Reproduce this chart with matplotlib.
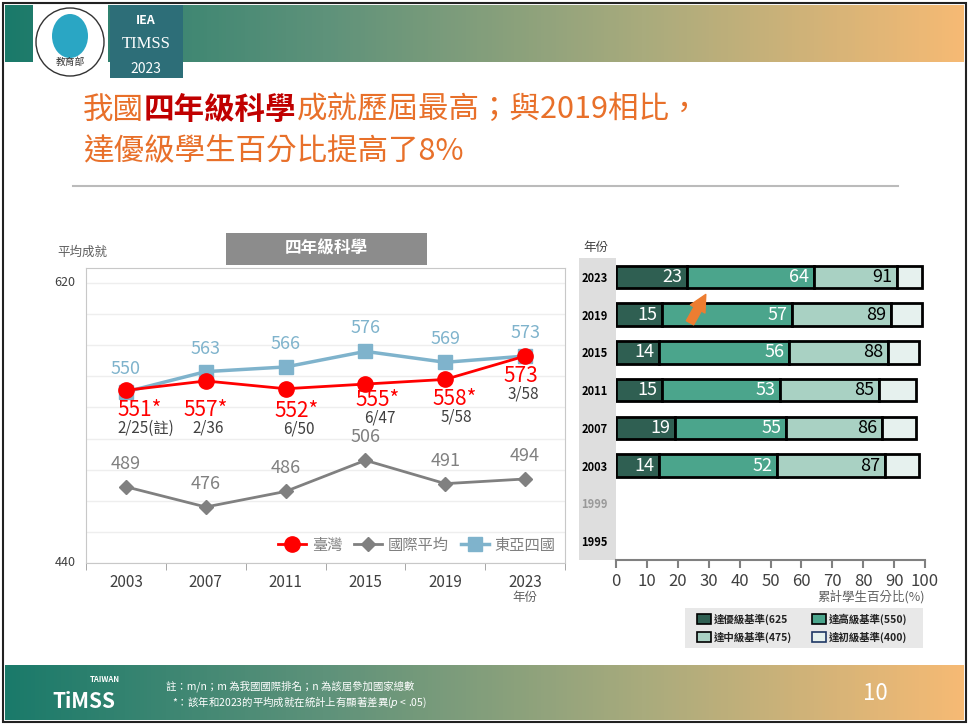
import numpy as np
import matplotlib.pyplot as plt
from matplotlib.patches import Rectangle, FancyArrowPatch, Ellipse
from matplotlib.colors import LinearSegmentedColormap

plt.rcParams['font.family'] = ['Noto Sans CJK TC', 'DejaVu Sans']

# data: line chart
years = ['2003', '2007', '2011', '2015', '2019', '2023']
taiwan = [551, 557, 552, 555, 558, 573]
intl_avg = [489, 476, 486, 506, 491, 494]
east_asia = [550, 563, 566, 576, 569, 573]
taiwan_labels = ['551*', '557*', '552*', '555*', '558*', '573']
rank_labels = ['2/25', '2/36', '6/50', '6/47', '5/58', '3/58']

# data: benchmark bars (cumulative %)
bar_years = ['2023', '2019', '2015', '2011', '2007', '2003', '1999', '1995']
advanced = [23, 15, 14, 15, 19, 14, None, None]
high = [64, 57, 56, 53, 55, 52, None, None]
intermediate = [91, 89, 88, 85, 86, 87, None, None]
low = [99, 99, 98, 97, 97, 98, None, None]
bench_names = ['達優級基準(625', '達高級基準(550)', '達中級基準(475)', '達初級基準(400)']
bench_colors = ['#2f5f52', '#4ba58c', '#a9d1c3', '#e6f1ee']

W, H = 969, 727
fig = plt.figure(figsize=(W / 100, H / 100), dpi=100)

def fx(px):
    return px / W

def fy(py):
    return 1 - py / H

# header / footer gradient bands
grad = np.linspace(0, 1, 256)[None, :]
cmap = LinearSegmentedColormap.from_list('band', ['#1a7a6a', '#5e927a', '#a9ab7d', '#f6ba74'])
for top, bot in [(5, 62), (665, 720)]:
    bax = fig.add_axes([fx(5), fy(bot), fx(W - 10), (bot - top) / H])
    bax.imshow(grad, aspect='auto', cmap=cmap)
    bax.axis('off')

# slide frame
fig.add_artist(Rectangle((fx(3), fy(722)), fx(W - 6), (722 - 3) / H, transform=fig.transFigure,
                         fill=False, ec='#222222', lw=1.5))

# logos
fig.add_artist(Rectangle((fx(33), fy(78)), fx(75), 73 / H, transform=fig.transFigure,
                         fc='white', ec='none'))
fig.add_artist(Ellipse((fx(70), fy(42)), fx(68), 68 / H, transform=fig.transFigure,
                       fc='white', ec='#333333', lw=1))
fig.add_artist(Ellipse((fx(70), fy(36)), fx(36), 44 / H, transform=fig.transFigure,
                       fc='#2aa6c4', ec='none'))
fig.text(fx(70), fy(62), '教育部', ha='center', va='center', fontsize=7, color='#333333')
fig.add_artist(Rectangle((fx(110), fy(78)), fx(73), 73 / H, transform=fig.transFigure,
                         fc='#2d6e78', ec='none'))
fig.text(fx(146), fy(20), 'IEA', ha='center', va='center', fontsize=9, color='white', weight='bold')
fig.text(fx(146), fy(44), 'TIMSS', ha='center', va='center', fontsize=12, color='white',
         family='Liberation Serif')
fig.text(fx(146), fy(69), '2023', ha='center', va='center', fontsize=10, color='white')

# title with mixed colours
orange, dred = '#e8702a', '#c00000'
fig.canvas.draw()
renderer = fig.canvas.get_renderer()

def colored_line(parts, x0, y0):
    x = x0
    for s, c, w in parts:
        t = fig.text(fx(x), fy(y0), s, color=c, fontsize=22, weight=w, va='center')
        bb = t.get_window_extent(renderer)
        x += bb.width

colored_line([('我國', orange, 'medium'), ('四年級科學', dred, 'bold'),
              ('成就歷屆最高；與2019相比，', orange, 'medium')], 83, 110)
colored_line([('達優級學生百分比提高了8%', orange, 'medium')], 83, 152)
fig.add_artist(plt.Line2D([fx(73), fx(898)], [fy(186), fy(186)], transform=fig.transFigure,
                          color='#bbbbbb', lw=1.5))

# ---------- line chart ----------
ax = fig.add_axes([fx(86), fy(563), fx(565 - 86), (563 - 268) / H])
x = np.arange(len(years))
ax.set_xlim(-0.5, 5.5)
ax.set_ylim(440, 629.6)
ax.set_yticks(np.arange(440, 630, 20))
ax.yaxis.grid(True, color='#eeeeee', lw=1)
ax.tick_params(axis='y', length=0, labelleft=False)
ax.set_xticks(x)
ax.set_xticklabels(years, fontsize=11, color='#404040')
ax.set_xticks(np.arange(-0.5, 6, 1), minor=True)
ax.tick_params(axis='x', which='major', length=0, pad=8)
ax.tick_params(axis='x', which='minor', length=5, color='#999999')
for s in ax.spines.values():
    s.set_color('#c8c8c8')
ax.set_axisbelow(True)

ea_c, int_c, tw_c = '#7fb3cc', '#808080', '#ff0000'
ax.plot(x, east_asia, color=ea_c, marker='s', ms=10, lw=2.5, label='東亞四國', zorder=3)
ax.plot(x, intl_avg, color=int_c, marker='D', ms=7, lw=2, label='國際平均', zorder=3)
ax.plot(x, taiwan, color=tw_c, marker='o', ms=11, lw=2, label='臺灣', zorder=4)

for i in range(len(years)):
    ax.annotate(str(east_asia[i]), (x[i], east_asia[i]), xytext=(0, 23), textcoords='offset pixels',
                ha='center', va='center', fontsize=13, color=ea_c)
    ax.annotate(str(intl_avg[i]), (x[i], intl_avg[i]), xytext=(0, 23), textcoords='offset pixels',
                ha='center', va='center', fontsize=13, color=int_c)

tw_off = [(14, -20), (0, -29), (11, -22), (12, -16), (9, -20), (-4, -20)]
for i in range(len(years)):
    dx, dy = tw_off[i]
    ax.annotate(taiwan_labels[i], (x[i], taiwan[i]), xytext=(dx, dy), textcoords='offset pixels',
                ha='center', va='center', fontsize=15, color=tw_c)
    rl = rank_labels[i] + ('(註)' if i == 0 else '')
    ax.annotate(rl, (x[i], taiwan[i]), xytext=(dx + (6 if i == 0 else 2), dy - 18),
                textcoords='offset pixels', ha='center', va='center', fontsize=11, color='#404040')

h, l = ax.get_legend_handles_labels()
ax.legend(h[::-1], l[::-1], loc='lower right', ncol=3, frameon=False, fontsize=11,
          handlelength=1.8, columnspacing=0.8, handletextpad=0.4, borderaxespad=0.2,
          labelcolor='#808080')

fig.text(fx(65), fy(283), '620', ha='center', va='center', fontsize=9, color='#404040')
fig.text(fx(65), fy(563), '440', ha='center', va='center', fontsize=9, color='#404040')
fig.text(fx(57), fy(252), '平均成就', ha='left', va='center', fontsize=9, color='#606060')
fig.text(fx(525), fy(598), '年份', ha='center', va='center', fontsize=9, color='#606060')
fig.add_artist(Rectangle((fx(226), fy(265)), fx(201), 32 / H, transform=fig.transFigure,
                         fc='#8c8c8c', ec='none'))
fig.text(fx(326), fy(249), '四年級科學', ha='center', va='center', fontsize=12, color='white',
         weight='bold')

# ---------- benchmark bars ----------
fig.add_artist(Rectangle((fx(579), fy(560)), fx(37), (560 - 258) / H, transform=fig.transFigure,
                         fc='#dedede', ec='none', zorder=-1))
bx = fig.add_axes([fx(616), fy(560), fx(925 - 616), (560 - 258) / H])
bx.patch.set_alpha(0)
ypos = np.arange(len(bar_years))[::-1]
bx.set_xlim(0, 100)
bx.set_ylim(-0.5, 7.5)
levels = [advanced, high, intermediate, low]
for yi, yr in zip(ypos, range(len(bar_years))):
    if advanced[yr] is None:
        continue
    left = 0
    for k, lev in enumerate(levels):
        val = lev[yr]
        bx.barh(yi, val - left, left=left, height=0.6, color=bench_colors[k], ec='black',
                lw=2, zorder=3)
        if k < 3:
            bx.text(val - 1.5, yi, str(val), ha='right', va='center', fontsize=13,
                    color='white' if k < 2 else 'black', zorder=6)
        left = val
bx.set_yticks(ypos)
bx.set_yticklabels(bar_years, fontsize=8, weight='bold')
for lab, yr in zip(bx.get_yticklabels(), bar_years):
    if yr == '1999':
        lab.set_color('#999999')
bx.tick_params(axis='y', length=0, pad=6)
bx.set_xticks(np.arange(0, 101, 10))
bx.tick_params(axis='x', labelsize=12, labelcolor='#404040', color='#808080', length=6, width=1.5)
for s in ['top', 'right', 'left']:
    bx.spines[s].set_visible(False)
bx.spines['bottom'].set_color('#808080')
bx.spines['bottom'].set_linewidth(1.5)
bx.add_patch(FancyArrowPatch((23.5, 5.72), (29.5, 6.6),
                             arrowstyle='simple,head_width=8,head_length=8,tail_width=4',
                             color='#ed7d31', zorder=7, mutation_scale=1.5))
fig.text(fx(596), fy(248), '年份', ha='center', va='center', fontsize=9, color='#404040')
fig.text(fx(925), fy(597), '累計學生百分比(%)', ha='right', va='center', fontsize=9, color='#606060')

# benchmark legend
fig.add_artist(Rectangle((fx(685), fy(648)), fx(238), 40 / H, transform=fig.transFigure,
                         fc='#e8e8e8', ec='none'))
leg_pos = [(697, 619), (812, 619), (697, 637), (812, 637)]
for k, (px, py) in enumerate(leg_pos):
    fig.add_artist(Rectangle((fx(px), fy(py + 5)), fx(14), 10 / H, transform=fig.transFigure,
                             fc=bench_colors[k], ec='#1f3864' if k == 3 else 'black', lw=1.2))
    fig.text(fx(px + 17), fy(py), bench_names[k], ha='left', va='center', fontsize=7.5,
             weight='bold', color='#222222')

# footer
fig.text(fx(52), fy(701), 'TiMSS', ha='left', va='center', fontsize=15, color='white', weight='bold')
fig.text(fx(90), fy(680), 'TAIWAN', ha='left', va='center', fontsize=5.5, color='white', weight='bold')
fig.text(fx(166), fy(686), '註：m/n；m 為我國國際排名；n 為該屆參加國家總數', ha='left', va='center',
         fontsize=7.5, color='white')
fig.text(fx(172), fy(702), '*：該年和2023的平均成就在統計上有顯著差異($p$ < .05)', ha='left',
         va='center', fontsize=7.5, color='white')
fig.text(fx(875), fy(694), '10', ha='center', va='center', fontsize=16, color='white')

fig.savefig('out.png', dpi=100)
